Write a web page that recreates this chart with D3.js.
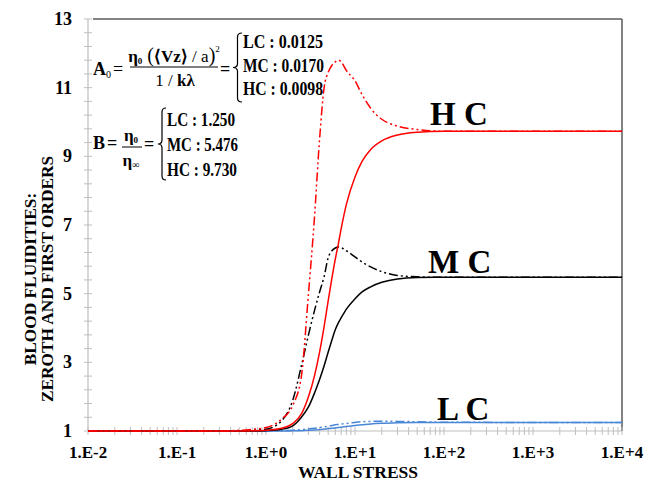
<!DOCTYPE html>
<html><head><meta charset="utf-8">
<script src="https://cdn.jsdelivr.net/npm/d3@7"></script>
<style>
html,body{margin:0;padding:0;background:#fff;}
svg text{font-family:"Liberation Serif","Times New Roman",serif;}
</style></head>
<body>
<svg id="chart" width="657" height="484"></svg>
<script>
// ---- data ----
const stress = [0.01, 0.1, 0.3, 0.5, 0.7, 1, 1.5, 2, 2.5, 3, 3.5, 4, 4.5, 5, 5.5, 6, 6.5, 7, 8, 10, 12, 15, 20, 30, 50, 100, 1000, 10000];
const hcZero  = [1, 1, 1, 1.0, 1.005, 1.02, 1.08, 1.22, 1.5, 2.0, 2.6, 3.3, 4.05, 4.8, 5.45, 6.0, 6.45, 6.9, 7.6, 8.4, 8.85, 9.2, 9.45, 9.62, 9.7, 9.73, 9.73, 9.73];
const hcFirst = [1, 1, 1.0, 1.02, 1.05, 1.1, 1.35, 1.75, 2.6, 5.0, 7.2, 9.5, 11.0, 11.45, 11.65, 11.75, 11.8, 11.75, 11.5, 11.2, 10.8, 10.4, 10.08, 9.88, 9.78, 9.73, 9.73, 9.73];
const mcZero  = [1, 1, 1, 1, 1, 1.01, 1.05, 1.15, 1.4, 1.7, 2.1, 2.5, 2.9, 3.3, 3.65, 3.95, 4.15, 4.3, 4.55, 4.85, 5.05, 5.2, 5.33, 5.43, 5.47, 5.476, 5.476, 5.476];
const mcFirst = [1, 1, 1.0, 1.0, 1.02, 1.05, 1.3, 1.9, 2.9, 3.8, 4.5, 5.05, 5.5, 6.05, 6.25, 6.33, 6.36, 6.34, 6.25, 6.07, 5.92, 5.78, 5.64, 5.53, 5.49, 5.476, 5.476, 5.476];
const lcZero  = [1, 1, 1, 1, 1, 1.0, 1.0, 1.005, 1.01, 1.02, 1.03, 1.04, 1.055, 1.07, 1.08, 1.09, 1.1, 1.11, 1.13, 1.16, 1.18, 1.205, 1.225, 1.24, 1.248, 1.25, 1.25, 1.25];
const lcFirst = [1, 1, 1, 1, 1, 1.0, 1.01, 1.025, 1.04, 1.06, 1.08, 1.1, 1.12, 1.14, 1.16, 1.18, 1.19, 1.2, 1.22, 1.25, 1.27, 1.28, 1.285, 1.28, 1.27, 1.255, 1.25, 1.25];

const xTickValues = [0.01, 0.1, 1, 10, 100, 1000, 10000];
const xTickLabels = ["1.E-2", "1.E-1", "1.E+0", "1.E+1", "1.E+2", "1.E+3", "1.E+4"];
const yTickValues = [1, 3, 5, 7, 9, 11, 13];
const yTickLabels = ["1", "3", "5", "7", "9", "11", "13"];
const curveLabels = ["H C", "M C", "L C"];
const curveLabelValues = [9.73, 5.476, 1.25];
const groupA = ["LC : 0.0125", "MC : 0.0170", "HC : 0.0098"];
const groupB = ["LC : 1.250", "MC : 5.476", "HC : 9.730"];

// ---- layout ----
const svg = d3.select("#chart");
const L = 88, R = 622, T = 19, B = 431;
const x = d3.scaleLog().domain([0.01, 10000]).range([L, R]);
const y = d3.scaleLinear().domain([1, 13]).range([B, T]);

// axes lines
const gridGray = "#bfbfbf", frame = "#5a5a5a";
svg.append("line").attr("x1", L).attr("x2", L).attr("y1", T).attr("y2", B).attr("stroke", gridGray).attr("stroke-width", 1.2);
svg.append("line").attr("x1", L).attr("x2", R).attr("y1", B).attr("y2", B).attr("stroke", gridGray).attr("stroke-width", 1.2);
svg.append("line").attr("x1", 93).attr("x2", R).attr("y1", T).attr("y2", T).attr("stroke", frame).attr("stroke-width", 1.5);
svg.append("line").attr("x1", R).attr("x2", R).attr("y1", T).attr("y2", B).attr("stroke", frame).attr("stroke-width", 1.5);

// y minor ticks every 0.4
const yMinor = d3.range(0, 31).map(i => 1 + i * 0.4);
svg.append("g").selectAll("line").data(yMinor).join("line")
  .attr("x1", L - 4).attr("x2", L + 4)
  .attr("y1", d => y(d)).attr("y2", d => y(d))
  .attr("stroke", gridGray).attr("stroke-width", 1);

// x minor ticks
const xMinor = [];
for (let e = -2; e < 4; e++) for (let m = 1; m < 10; m++) xMinor.push(m * Math.pow(10, e));
xMinor.push(10000);
svg.append("g").selectAll("line").data(xMinor).join("line")
  .attr("x1", d => x(d)).attr("x2", d => x(d))
  .attr("y1", B - 4).attr("y2", B + 4)
  .attr("stroke", gridGray).attr("stroke-width", 1);

// tick labels
svg.append("g").selectAll("text").data(xTickValues).join("text")
  .attr("x", d => x(d)).attr("y", 458)
  .attr("text-anchor", "middle").attr("font-weight", "bold").attr("font-size", 17)
  .text((d, i) => xTickLabels[i]);
svg.append("g").selectAll("text").data(yTickValues).join("text")
  .attr("x", 72).attr("y", d => y(d) + 6)
  .attr("text-anchor", "end").attr("font-weight", "bold").attr("font-size", 18)
  .text((d, i) => yTickLabels[i]);

// axis titles
svg.append("text").attr("x", 358).attr("y", 478).attr("text-anchor", "middle")
  .attr("font-weight", "bold").attr("font-size", 17.5).text("WALL STRESS");
const yt = svg.append("g").attr("transform", "translate(0,279) rotate(-90)");
yt.append("text").attr("x", 0).attr("y", 36).attr("text-anchor", "middle")
  .attr("font-weight", "bold").attr("font-size", 17.3).text("BLOOD FLUIDITIES:");
yt.append("text").attr("x", 0).attr("y", 53).attr("text-anchor", "middle")
  .attr("font-weight", "bold").attr("font-size", 17.3).text("ZEROTH AND FIRST ORDERS");

// curves
const line = d3.line().x(d => x(d[0])).y(d => y(d[1])).curve(d3.curveMonotoneX);
const series = [
  {v: lcZero,  c: "#4a86d6", dash: null},
  {v: lcFirst, c: "#4a86d6", dash: "9,3,2,3,2,3"},
  {v: mcZero,  c: "#000000", dash: null},
  {v: mcFirst, c: "#000000", dash: "9,3,2,3,2,3"},
  {v: hcZero,  c: "#ff0000", dash: null},
  {v: hcFirst, c: "#ff0000", dash: "9,3,2,3,2,3"}
];
series.forEach(s => {
  svg.append("path").datum(stress.map((d, i) => [d, s.v[i]]))
    .attr("d", line).attr("fill", "none").attr("stroke", s.c)
    .attr("stroke-width", 1.5).attr("stroke-dasharray", s.dash);
});

// curve labels
const labelX = [430, 428, 437];
const labelDy = [-6, -4, -2];
curveLabels.forEach((t, i) => {
  svg.append("text").attr("x", labelX[i]).attr("y", y(curveLabelValues[i]) + labelDy[i])
    .attr("font-weight", "bold").attr("font-size", 33).attr("xml:space", "preserve").text(t);
});

// brace helper
function brace(xTip, y0, y1, w) {
  const ym = (y0 + y1) / 2, xm = xTip + w / 2, r = 4;
  return `M${xTip + w},${y0} Q${xm},${y0} ${xm},${y0 + r} L${xm},${ym - r} Q${xm},${ym} ${xTip},${ym} Q${xm},${ym} ${xm},${ym + r} L${xm},${y1 - r} Q${xm},${y1} ${xTip + w},${y1}`;
}

// Equation A0
const eq = svg.append("g").attr("fill", "#000");
const tA = eq.append("text").attr("x", 93).attr("y", 75).attr("font-size", 18);
tA.append("tspan").attr("font-weight", "bold").text("A");
tA.append("tspan").attr("font-size", 10).attr("dy", 3).text("0");
eq.append("text").attr("x", 113).attr("y", 75).attr("font-size", 18).text("=");
const num = eq.append("text").attr("x", 174).attr("y", 62).attr("font-size", 17).attr("text-anchor", "middle");
num.append("tspan").attr("font-weight", "bold").text("η");
num.append("tspan").attr("font-size", 9).attr("font-weight", "bold").attr("dy", 2).text("0");
num.append("tspan").attr("dy", -2).attr("font-size", 20).text(" (");
num.append("tspan").attr("font-weight", "bold").text("⟨Vz⟩");
num.append("tspan").text(" / a");
num.append("tspan").attr("font-size", 20).text(")");
num.append("tspan").attr("font-size", 9).attr("dy", -10).text("2");
eq.append("line").attr("x1", 130).attr("x2", 218).attr("y1", 67).attr("y2", 67).attr("stroke", "#000").attr("stroke-width", 1);
const den = eq.append("text").attr("x", 175).attr("y", 86).attr("font-size", 17).attr("text-anchor", "middle");
den.append("tspan").text("1 / ");
den.append("tspan").attr("font-weight", "bold").text("kλ");
eq.append("text").attr("x", 220).attr("y", 75).attr("font-size", 18).attr("font-weight", "bold").text("=");
eq.append("path").attr("d", brace(233, 33, 102, 9)).attr("fill", "none").attr("stroke", "#000").attr("stroke-width", 1.2);
const widthsA = [80, 81, 80];
[48, 72, 95].forEach((yy, i) => {
  eq.append("text").attr("x", 243).attr("y", yy).attr("font-size", 18).attr("font-weight", "bold")
    .attr("textLength", widthsA[i]).attr("lengthAdjust", "spacingAndGlyphs").text(groupA[i]);
});

// Equation B
eq.append("text").attr("x", 93).attr("y", 149).attr("font-size", 18).attr("font-weight", "bold").text("B");
eq.append("text").attr("x", 107).attr("y", 149).attr("font-size", 18).attr("font-weight", "bold").text("=");
const bn = eq.append("text").attr("x", 131).attr("y", 141).attr("font-size", 17).attr("text-anchor", "middle").attr("font-weight", "bold");
bn.append("tspan").text("η");
bn.append("tspan").attr("font-size", 9).attr("dy", 2).text("0");
eq.append("line").attr("x1", 122).attr("x2", 142).attr("y1", 147).attr("y2", 147).attr("stroke", "#000").attr("stroke-width", 1);
const bd = eq.append("text").attr("x", 131).attr("y", 166).attr("font-size", 17).attr("text-anchor", "middle").attr("font-weight", "bold");
bd.append("tspan").text("η");
bd.append("tspan").attr("font-size", 10).attr("dy", 2).text("∞");
eq.append("text").attr("x", 144).attr("y", 150).attr("font-size", 18).attr("font-weight", "bold").text("=");
eq.append("path").attr("d", brace(158, 108, 180, 8)).attr("fill", "none").attr("stroke", "#000").attr("stroke-width", 1.2);
const widthsB = [68, 71, 70];
[126, 151, 176].forEach((yy, i) => {
  eq.append("text").attr("x", 167).attr("y", yy).attr("font-size", 18).attr("font-weight", "bold")
    .attr("textLength", widthsB[i]).attr("lengthAdjust", "spacingAndGlyphs").text(groupB[i]);
});
</script>
</body></html>
